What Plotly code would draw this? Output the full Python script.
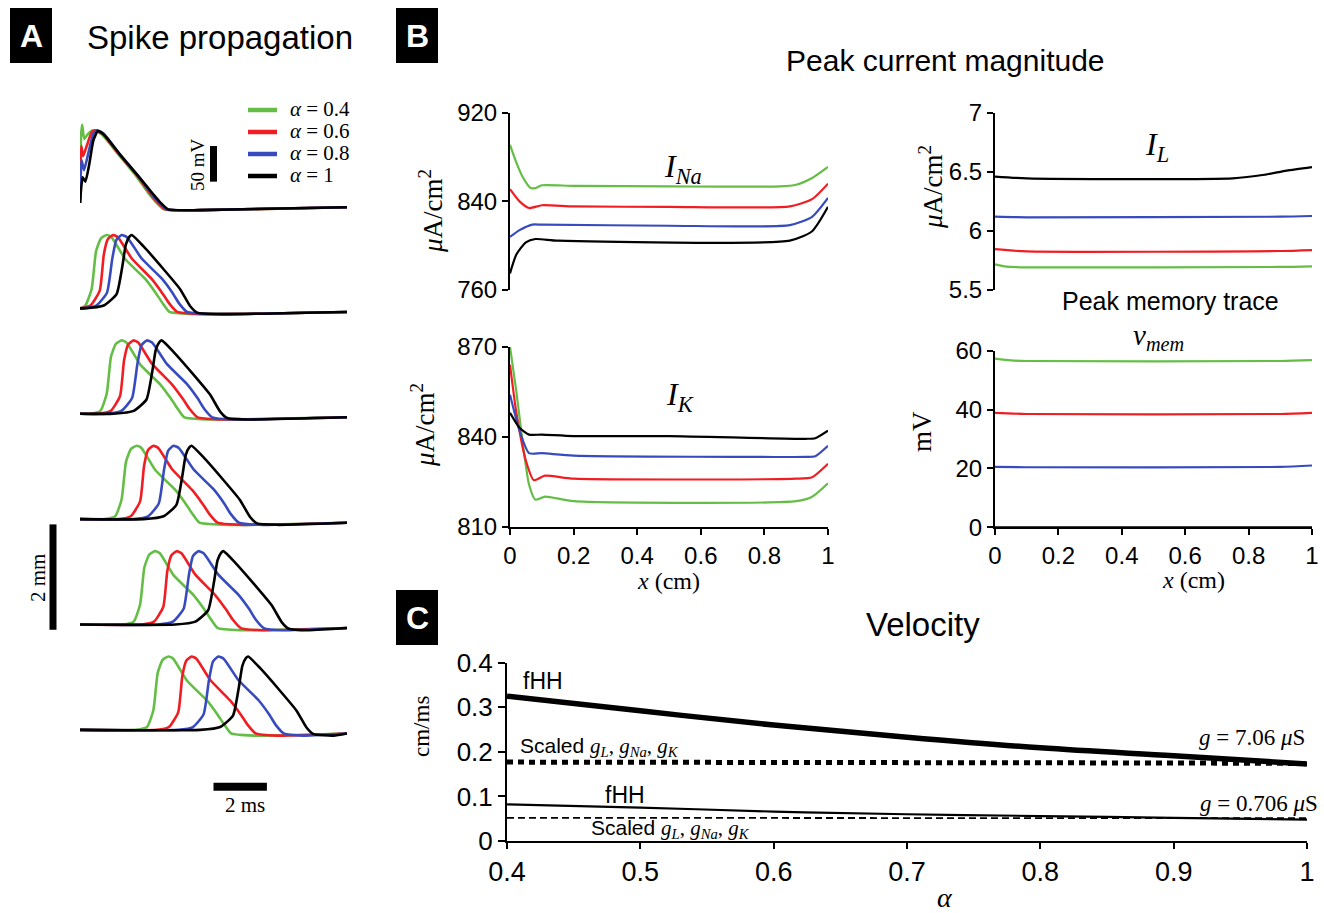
import plotly.graph_objects as go

W, H = 1324, 913

# ------------------------------------------------------------------ data
alpha_labels = ["0.4", "0.6", "0.8", "1"]
alpha_colors = ["rgb(100,190,70)", "rgb(240,30,35)", "rgb(55,75,190)", "rgb(0,0,0)"]

# Panel A: membrane potential (mV, relative to rest) vs time (ms)
# row 1 = stimulation site (x = 0)
row1_t = {
    "0.4": [0, 0.04, 0.08, 0.16, 0.3, 0.5, 0.8, 1.4, 2.1, 2.6, 2.85, 3.15, 4.5, 10],
    "0.6": [0, 0.05, 0.12, 0.25, 0.45, 0.6, 0.85, 1.45, 2.15, 2.65, 2.9, 3.2, 4.5, 10],
    "0.8": [0, 0.06, 0.15, 0.3, 0.5, 0.65, 0.9, 1.5, 2.2, 2.7, 2.95, 3.25, 4.5, 10],
    "1":   [0, 0.1, 0.2, 0.35, 0.5, 0.67, 0.9, 1.5, 2.2, 2.75, 3.0, 3.3, 4.5, 10],
}
row1_v = {
    "0.4": [0, 95, 110, 90, 97, 102, 97, 70, 38, 12, 1, -9, -10, -6],
    "0.6": [0, 80, 66, 80, 100, 102, 97, 69, 38, 12, 1, -9, -10, -6],
    "0.8": [0, 60, 46, 68, 97, 102, 97, 68, 37, 12, 1, -9, -10, -6],
    "1":   [0, 36, 30, 55, 88, 101, 96, 68, 37, 12, 1, -9, -10, -6],
}
# spike waveform around its peak (dt in ms, V in mV), read from rows 2-6
spike_dt = {
    "0.4": [-1.2, -0.8, -0.56, -0.4, -0.22, 0, 0.18, 0.7, 1.45, 1.85, 2.1, 2.35, 3.2],
    "0.6": [-1.3, -0.85, -0.5, -0.35, -0.2, 0, 0.18, 0.7, 1.45, 1.85, 2.1, 2.4, 3.2],
    "0.8": [-1.5, -0.95, -0.55, -0.35, -0.2, 0, 0.2, 0.75, 1.5, 1.9, 2.15, 2.45, 3.2],
    "1":   [-1.8, -1.05, -0.57, -0.35, -0.22, -0.08, 0, 0.44, 1.19, 1.81, 2.19, 2.45, 3.2],
}
spike_v = {
    "0.4": [0, 4, 28, 80, 98, 103, 100, 69, 41, 21, 7, -5, -8],
    "0.6": [0, 4, 25, 75, 97, 103, 100, 70, 41, 21, 7, -5, -8],
    "0.8": [0, 4, 22, 70, 96, 103, 100, 70, 42, 22, 7, -5, -8],
    "1":   [0, 4, 20, 60, 90, 101, 103, 87, 55, 27, 3, -6, -8],
}
# peak times (ms) of rows 2..6
peak_times = {
    "0.4": [1.0, 1.56, 2.12, 2.81, 3.31],
    "0.6": [1.24, 2.0, 2.75, 3.62, 4.18],
    "0.8": [1.56, 2.5, 3.5, 4.43, 5.18],
    "1":   [1.94, 3.06, 4.18, 5.37, 6.30],
}
tail_t, tail_v = 10, -5
row_spacing_mV = 148   # 2 mm between recorded rows

# Panel B: peak current magnitudes vs x (cm)
ina_x = {"0.4": [0, 0.02, 0.04, 0.065, 0.08, 0.1, 0.2, 0.5, 0.85, 0.9, 0.95, 1.0],
         "0.6": [0, 0.03, 0.06, 0.1, 0.2, 0.5, 0.88, 0.95, 1.0],
         "0.8": [0, 0.03, 0.07, 0.1, 0.5, 0.88, 0.95, 1.0],
         "1":   [0, 0.02, 0.05, 0.08, 0.15, 0.88, 0.95, 1.0]}
ina_y = {"0.4": [891, 875, 862, 852, 852, 854.5, 854, 853.5, 853.5, 855, 861, 871],
         "0.6": [851, 840, 834, 836.5, 835.5, 835, 835.5, 842, 856],
         "0.8": [808, 814, 819, 819, 818, 818.5, 826, 843],
         "1":   [775, 792, 803, 806, 804.5, 804.5, 813, 835]}

il_x = {"0.4": [0, 0.03, 0.1, 0.9, 1.0],
        "0.6": [0, 0.1, 0.9, 1.0],
        "0.8": [0, 0.1, 0.9, 1.0],
        "1":   [0, 0.1, 0.75, 0.85, 0.92, 1.0]}
il_y = {"0.4": [5.717, 5.70, 5.692, 5.695, 5.70],
        "0.6": [5.845, 5.826, 5.83, 5.838],
        "0.8": [6.12, 6.115, 6.12, 6.126],
        "1":   [6.46, 6.445, 6.445, 6.475, 6.51, 6.54]}

ik_x = {"0.4": [0, 0.02, 0.04, 0.06, 0.08, 0.11, 0.2, 0.9, 0.95, 1.0],
        "0.6": [0, 0.02, 0.05, 0.075, 0.11, 0.2, 0.9, 0.95, 1.0],
        "0.8": [0, 0.03, 0.06, 0.1, 0.2, 0.93, 0.96, 1.0],
        "1":   [0, 0.03, 0.06, 0.1, 0.2, 0.5, 0.93, 0.96, 1.0]}
ik_y = {"0.4": [870, 855, 838, 824, 819, 820, 818.5, 818.5, 820, 824.5],
        "0.6": [864, 848, 832, 825.5, 827, 826, 826, 826.5, 831],
        "0.8": [854, 842, 834.5, 834.5, 833.7, 833.3, 833.5, 837],
        "1":   [848, 843, 840.7, 840.7, 840.2, 840.2, 839.3, 839.5, 842]}

vmem_x = {"0.4": [0, 0.05, 0.1, 0.9, 1.0],
          "0.6": [0, 0.1, 0.9, 1.0],
          "0.8": [0, 0.1, 0.9, 1.0],
          "1":   [0, 1.0]}
vmem_y = {"0.4": [57.3, 56.7, 56.5, 56.5, 56.8],
          "0.6": [38.9, 38.5, 38.5, 38.9],
          "0.8": [20.5, 20.4, 20.5, 21.0],
          "1":   [0, 0]}

# Panel C: velocity (cm/ms) vs alpha
vel_alpha = [0.4, 0.5, 0.6, 0.7, 0.8, 0.9, 1.0]
vel_fhh_high = [0.325, 0.292, 0.260, 0.233, 0.209, 0.191, 0.173]
vel_scaled_high = [0.177, 0.177, 0.176, 0.176, 0.175, 0.175, 0.174]
vel_fhh_low = [0.082, 0.075, 0.066, 0.060, 0.056, 0.052, 0.048]
vel_scaled_low = [0.052, 0.052, 0.052, 0.051, 0.051, 0.051, 0.051]

# ------------------------------------------------------------------ helpers
def dx(a, b):
    return [a / W, b / W]

def dy(top, bottom):
    return [1 - bottom / H, 1 - top / H]

def px(x):
    return x / W

def py(y):
    return 1 - y / H

SANS = "Liberation Sans, Arial, sans-serif"
SERIF = "Liberation Serif, DejaVu Serif, serif"

fig = go.Figure()

# ------------------------------------------------------------------ panel A traces
for i, a in enumerate(alpha_labels):
    fig.add_trace(go.Scatter(
        x=row1_t[a], y=row1_v[a], mode="lines", name=f"α = {a}",
        line=dict(color=alpha_colors[i], width=2.6, shape="spline", smoothing=0.5),
        xaxis="x", yaxis="y", showlegend=False))
for k in range(5):
    off = -(k + 1) * row_spacing_mV
    for i, a in enumerate(alpha_labels):
        pk = peak_times[a][k]
        ts = [0.0]
        vs = [0.0 + off]
        for d, v in zip(spike_dt[a], spike_v[a]):
            t = pk + d
            if t > 0.02:
                ts.append(t)
                vs.append(v + off)
        ts.append(tail_t)
        vs.append(tail_v + off)
        fig.add_trace(go.Scatter(
            x=ts, y=vs, mode="lines", name=f"α = {a}",
            line=dict(color=alpha_colors[i], width=2.6, shape="spline", smoothing=0.5),
            xaxis="x", yaxis="y", showlegend=False, hoverinfo="skip"))

# ------------------------------------------------------------------ panel B traces
def add_b(xs, ys, xa, ya):
    for i, a in enumerate(alpha_labels):
        fig.add_trace(go.Scatter(
            x=xs[a], y=ys[a], mode="lines", name=f"α = {a}",
            line=dict(color=alpha_colors[i], width=2.2, shape="spline", smoothing=0.6),
            xaxis=xa, yaxis=ya, showlegend=False))

add_b(ina_x, ina_y, "x2", "y2")
add_b(ik_x, ik_y, "x3", "y3")
add_b(il_x, il_y, "x4", "y4")
add_b(vmem_x, vmem_y, "x5", "y5")

# ------------------------------------------------------------------ panel C traces
fig.add_trace(go.Scatter(x=vel_alpha, y=vel_fhh_high, mode="lines",
                         line=dict(color="black", width=5.5, shape="spline"),
                         xaxis="x6", yaxis="y6", showlegend=False, name="fHH g=7.06"))
fig.add_trace(go.Scatter(x=vel_alpha, y=vel_scaled_high, mode="lines",
                         line=dict(color="black", width=5, dash="6px,5px"),
                         xaxis="x6", yaxis="y6", showlegend=False, name="Scaled g=7.06"))
fig.add_trace(go.Scatter(x=vel_alpha, y=vel_fhh_low, mode="lines",
                         line=dict(color="black", width=2.2, shape="spline"),
                         xaxis="x6", yaxis="y6", showlegend=False, name="fHH g=0.706"))
fig.add_trace(go.Scatter(x=vel_alpha, y=vel_scaled_low, mode="lines",
                         line=dict(color="black", width=1.8, dash="7px,4px"),
                         xaxis="x6", yaxis="y6", showlegend=False, name="Scaled g=0.706"))

# ------------------------------------------------------------------ axes
hidden = dict(visible=False, showgrid=False, zeroline=False, automargin=False)


def axis(domain, rng, anchor, tickvals=None, ticktext=None, fsize=24, ticklen=6):
    d = dict(showline=True, linecolor="black", linewidth=2, ticks="outside",
             ticklen=ticklen, tickwidth=2, tickcolor="black", showgrid=False,
             zeroline=False, automargin=False, domain=domain, range=rng,
             anchor=anchor, tickmode="array",
             tickfont=dict(family=SANS, size=fsize, color="black"))
    if tickvals is not None:
        d["tickvals"] = tickvals
    if ticktext is not None:
        d["ticktext"] = ticktext
    return d


x_ticks = [0, 0.2, 0.4, 0.6, 0.8, 1]
x_ticktext = ["0", "0.2", "0.4", "0.6", "0.8", "1"]

A_mV_per_px = 1 / 0.712
fig.update_layout(
    xaxis=dict(hidden, domain=dx(80, 347), range=[0, 10], anchor="y"),
    yaxis=dict(hidden, domain=dy(100, 800),
               range=[(203 - 800) * A_mV_per_px, (203 - 100) * A_mV_per_px], anchor="x"),
    xaxis2=dict(hidden, domain=dx(510, 828), range=[0, 1], anchor="y2"),
    yaxis2=axis(dy(112.7, 290), [760, 920], "x2", [760, 840, 920], ["760", "840", "920"]),
    xaxis3=axis(dx(510, 828), [0, 1], "y3", x_ticks, x_ticktext),
    yaxis3=axis(dy(346.7, 526.7), [810, 870], "x3", [810, 840, 870], ["810", "840", "870"]),
    xaxis4=dict(hidden, domain=dx(995, 1312), range=[0, 1], anchor="y4"),
    yaxis4=axis(dy(112.7, 290), [5.5, 7], "x4", [5.5, 6, 6.5, 7], ["5.5", "6", "6.5", "7"]),
    xaxis5=axis(dx(995, 1312), [0, 1], "y5", x_ticks, x_ticktext),
    yaxis5=axis(dy(350.7, 527.3), [0, 60], "x5", [0, 20, 40, 60], ["0", "20", "40", "60"]),
    xaxis6=axis(dx(507, 1307), [0.4, 1], "y6", [0.4, 0.5, 0.6, 0.7, 0.8, 0.9, 1.0],
                ["0.4", "0.5", "0.6", "0.7", "0.8", "0.9", "1"], fsize=27, ticklen=6),
    yaxis6=axis(dy(662.7, 841), [0, 0.4], "x6", [0, 0.1, 0.2, 0.3, 0.4],
                ["0", "0.1", "0.2", "0.3", "0.4"], fsize=26, ticklen=7),
)

# ------------------------------------------------------------------ annotations
ann = []

def text(x, y, s, size, family=SANS, angle=0, xanchor="center", yanchor="middle",
         color="black"):
    ann.append(dict(x=px(x), y=py(y), xref="paper", yref="paper", text=s,
                    showarrow=False, textangle=angle, xanchor=xanchor, yanchor=yanchor,
                    font=dict(family=family, size=size, color=color)))

# panel letters (boxes drawn as shapes below)
boxes = [(10, 8, "A"), (396, 8, "B"), (396, 590, "C")]
for (x0, y0, letter) in boxes:
    text(x0 + 21, y0 + 28, f"<b>{letter}</b>", 32, SANS, color="white")

text(85, 37, "Spike propagation", 33, SANS, xanchor="left")
text(197, 165, "50 mV", 19, SERIF, angle=-90)
text(38, 578, "2 mm", 21, SERIF, angle=-90)
text(245, 805, "2 ms", 21, SERIF)

# manual legend for panel A
leg_y = [110, 132, 154, 176]
for i, a in enumerate(alpha_labels):
    text(288, leg_y[i] - 1, f"<i>α</i> = {a}", 21, SERIF, xanchor="left")

text(945, 60, "Peak current magnitude", 30, SANS)
text(1170, 301, "Peak memory trace", 25, SANS)
text(683, 168, "<i>I</i><sub><i>Na</i></sub>", 32, SERIF)
text(680, 396, "<i>I</i><sub><i>K</i></sub>", 32, SERIF)
text(1157, 147, "<i>I</i><sub><i>L</i></sub>", 32, SERIF)
text(1158, 337, "<i>v</i><sub><i>mem</i></sub>", 29, SERIF)

mu_a = "<i>μ</i>A/cm<sup>2</sup>"
text(431, 211, mu_a, 27, SERIF, angle=-90)
text(423, 425, mu_a, 27, SERIF, angle=-90)
text(931, 187, mu_a, 27, SERIF, angle=-90)
text(922, 432, "mV", 27, SERIF, angle=-90)
text(668, 581, "<i>x</i> (cm)", 24, SERIF)
text(1193, 580, "<i>x</i> (cm)", 24, SERIF)

text(923, 624, "Velocity", 33, SANS)
text(421, 727, "cm/ms", 23, SERIF, angle=-90)
text(945, 897, "<i>α</i>", 28, SERIF)

gs = ("<span style='font-family:Liberation Serif'><i>g<sub>L</sub></i>, "
      "<i>g<sub>Na</sub></i>, <i>g<sub>K</sub></i></span>")
text(521, 681, "fHH", 23, SANS, xanchor="left")
text(518, 747, "Scaled " + gs, 21, SANS, xanchor="left")
text(1307, 737, "<i>g</i> = 7.06 <i>μ</i>S", 23, SERIF, xanchor="right")
text(603, 795, "fHH", 23, SANS, xanchor="left")
text(1320, 803, "<i>g</i> = 0.706 <i>μ</i>S", 23, SERIF, xanchor="right")
text(589, 829, "Scaled " + gs, 21, SANS, xanchor="left")

# ------------------------------------------------------------------ shapes (boxes, legend keys, scale bars)
shapes = []
for (x0, y0, _) in boxes:
    shapes.append(dict(type="rect", xref="paper", yref="paper",
                       x0=px(x0), x1=px(x0 + 42), y0=py(y0), y1=py(y0 + 55),
                       fillcolor="black", line=dict(width=0), layer="below"))
for i in range(4):
    shapes.append(dict(type="line", xref="paper", yref="paper",
                       x0=px(248), x1=px(277), y0=py(leg_y[i]), y1=py(leg_y[i]),
                       line=dict(color=alpha_colors[i], width=4.5)))
# 50 mV bar
shapes.append(dict(type="line", xref="x", yref="y", x0=5.0, x1=5.0, y0=30, y1=80,
                   line=dict(color="black", width=7)))
# 2 ms bar
shapes.append(dict(type="line", xref="x", yref="y", x0=5.0, x1=7.0,
                   y0=-820, y1=-820, line=dict(color="black", width=8)))
# 2 mm bar (one row spacing)
shapes.append(dict(type="line", xref="paper", yref="y", x0=px(53), x1=px(53),
                   y0=-3.05 * row_spacing_mV, y1=-4.05 * row_spacing_mV,
                   line=dict(color="black", width=7)))

fig.update_layout(
    width=W, height=H, autosize=False,
    margin=dict(l=0, r=0, t=0, b=0, autoexpand=False),
    paper_bgcolor="white", plot_bgcolor="white",
    annotations=ann, shapes=shapes,
    showlegend=False,
)

fig.write_html("out.html")
